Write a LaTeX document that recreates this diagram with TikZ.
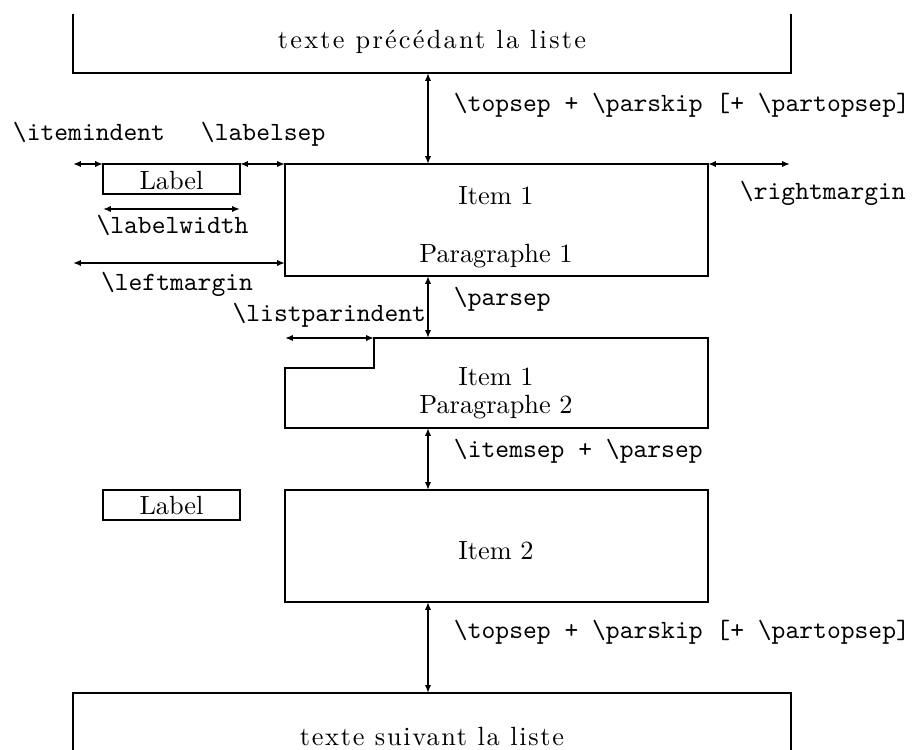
\documentclass[tikz,border=0pt]{standalone}
\usepackage{fontspec}
\newfontfamily\spacedfontA[LetterSpace=8.5]{lmroman10-regular.otf}
\newfontfamily\spacedfontB[LetterSpace=6.5]{lmroman10-regular.otf}
\usetikzlibrary{arrows.meta}
\begin{document}
\begin{tikzpicture}[x=0.38pt,y=-0.38pt,line width=0.75pt,
  dim/.style={{Latex[length=3pt,width=2.4pt]}-{Latex[length=3pt,width=2.4pt]}},
  txt/.style={inner sep=0pt,anchor=base},
  spaceda/.style={inner sep=0pt,anchor=base,font=\spacedfontA},
  spacedb/.style={inner sep=0pt,anchor=base,font=\spacedfontB},
  ttl/.style={inner sep=0pt,anchor=base west,font=\ttfamily},
  ttr/.style={inner sep=0pt,anchor=base east,font=\ttfamily},
  ttc/.style={inner sep=0pt,anchor=base,font=\ttfamily}]
\useasboundingbox (0,0) rectangle (914,750);
% coordinates
\coordinate (preBL) at (73,73);
\coordinate (preBR) at (791,73);
\coordinate (preA) at (428,73);
\coordinate (i1TL) at (285,164);
\coordinate (i1BR) at (708,276);
\coordinate (i1A) at (428,164);
\coordinate (i1B) at (428,276);
\coordinate (lm0) at (73,164);
\coordinate (lb1TL) at (103,164);
\coordinate (lb1TR) at (240,164);
\coordinate (lb1BR) at (240,194);
\coordinate (lw0) at (103,209);
\coordinate (lw1) at (240,209);
\coordinate (lf0) at (73,263);
\coordinate (lf1) at (285,263);
\coordinate (rm0) at (708,164);
\coordinate (rm1) at (790,164);
\coordinate (p2A) at (428,338);
\coordinate (lp0) at (285,338);
\coordinate (lp1) at (374,338);
\coordinate (p2B) at (428,428);
\coordinate (i2A) at (428,490);
\coordinate (i2B) at (428,602);
\coordinate (postA) at (428,693);
% preceding text box
\draw (73,14) -- (preBL) -- (preBR) -- (791,14);
\node[spaceda] (pre) at (432,48) {texte précédant la liste};
% item 1 box
\draw (i1TL) rectangle (i1BR);
\node[txt] (it1) at (496,204) {Item 1};
\node[txt] (par1) at (496,262) {Paragraphe 1};
% label box 1
\draw (lb1TL) rectangle (lb1BR);
\node[txt] (lab1) at (171.5,189) {Label};
% paragraph 2 box
\draw (lp1) -- (708,338) -- (708,428) -- (285,428) -- (285,368) -- (374,368) -- cycle;
\node[txt] (it1b) at (496,385) {Item 1};
\node[txt] (par2) at (496,413) {Paragraphe 2};
% label box 2 and item 2
\draw (103,490) rectangle (240,520);
\node[txt] (lab2) at (171.5,514) {Label};
\draw (285,490) rectangle (708,602);
\node[txt] (it2) at (496,559) {Item 2};
% following text box
\draw (73,752) -- (73,693) -- (791,693) -- (791,752);
\node[spacedb] (post) at (432,745) {texte suivant la liste};
% dimension arrows
\draw[dim] (preA) -- (i1A);
\draw[dim] (lm0) -- (lb1TL);
\draw[dim] (lb1TR) -- (i1TL);
\draw[dim] (lw0) -- (lw1);
\draw[dim] (lf0) -- (lf1);
\draw[dim] (rm0) -- (rm1);
\draw[dim] (i1B) -- (p2A);
\draw[dim] (lp0) -- (lp1);
\draw[dim] (p2B) -- (i2A);
\draw[dim] (i2B) -- (postA);
% dimension labels
\node[ttl] (t1) at (453,111) {\textbackslash topsep + \textbackslash parskip [+ \textbackslash partopsep]};
\node[ttl] (t2) at (12,140) {\textbackslash itemindent};
\node[ttl] (t3) at (200,140) {\textbackslash labelsep};
\node[ttc] (t4) at (172.5,233) {\textbackslash labelwidth};
\node[ttc] (t5) at (177,290) {\textbackslash leftmargin};
\node[ttl] (t6) at (739,199) {\textbackslash rightmargin};
\node[ttl] (t7) at (453,305) {\textbackslash parsep};
\node[ttr] (t8) at (427,321) {\textbackslash listparindent};
\node[ttl] (t9) at (453,457) {\textbackslash itemsep + \textbackslash parsep};
\node[ttl] (t10) at (453,638) {\textbackslash topsep + \textbackslash parskip [+ \textbackslash partopsep]};
\end{tikzpicture}
\end{document}
